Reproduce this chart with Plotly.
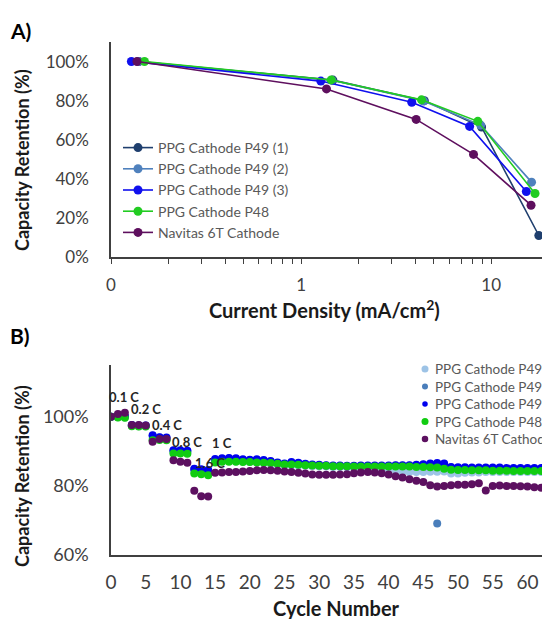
import math
import plotly.graph_objects as go

# ---------------- Panel A data ----------------
a_names = ["PPG Cathode P49 (1)", "PPG Cathode P49 (2)", "PPG Cathode P49 (3)",
           "PPG Cathode P48", "Navitas 6T Cathode"]
a_x_p49_1 = [0.14, 1.47, 4.45, 8.9, 17.8]
a_y_p49_1 = [100, 90.5, 80.0, 66.5, 11.0]
a_x_p49_2 = [0.14, 1.45, 4.4, 8.8, 16.3]
a_y_p49_2 = [100, 90.4, 79.8, 67.5, 38.3]
a_x_p49_3 = [0.128, 1.27, 3.82, 7.7, 15.3]
a_y_p49_3 = [100, 90.0, 79.2, 66.8, 33.5]
a_x_p48 = [0.15, 1.44, 4.3, 8.5, 17.0]
a_y_p48 = [100, 90.6, 80.4, 69.4, 32.5]
a_x_nav = [0.137, 1.36, 4.03, 8.07, 16.2]
a_y_nav = [100, 86.0, 70.4, 52.5, 26.5]
a_colors = ["#1F3F6E", "#4F81BD", "#1010EE", "#22CC22", "#5E0F5E"]

a_tickvals = [0.1, 0.2, 0.3, 0.4, 0.5, 0.6, 0.7, 0.8, 0.9, 1, 2, 3, 4, 5, 6, 7, 8, 9, 10]
a_ticktext = ["0", "", "", "", "", "", "", "", "", "1", "", "", "", "", "", "", "", "", "10"]
a_yticks = [0, 20, 40, 60, 80, 100]
a_yticktext = ["0%", "20%", "40%", "60%", "80%", "100%"]

# ---------------- Panel B data ----------------
b_names = ["PPG Cathode P49 (1)", "PPG Cathode P49 (2)", "PPG Cathode P49 (3)",
           "PPG Cathode P48", "Navitas 6T Cathode"]
b_cycles = list(range(63))
b_p49_1 = [100.0, 99.9, 99.8, 97.4, 97.3, 97.3, 93.6, 93.5, 93.4, 89.8, 89.7, 89.6, 84.2, 84.0, 83.8,
           86.9, 87.1, 87.2, 87.1, 87.0, 86.9, 86.8, 86.6, 86.4, 86.2, 86.0, 86.0, 85.9, 85.8, 85.7,
           85.6, 85.6, 85.5, 85.5, 85.4, 85.4, 85.4, 85.4, 85.3, 85.2, 85.0, 84.6, 84.2, 84.0, 84.0,
           84.0, 84.1, 84.1, 84.2, 83.6, 83.6, 83.8, 83.9, 83.9, 84.0, 84.0, 84.0, 84.0, 84.0, 84.0,
           84.0, 84.0, 84.0]
b_p49_2 = [100.0, 100.0, 100.1, 97.5, 97.4, 97.4, 94.5, 94.0, 93.9, 90.2, 90.1, 90.1, 84.8, 84.6, 84.4,
           87.6, 87.8, 87.9, 87.8, 87.5, 87.4, 87.5, 87.3, 87.0, 86.6, 86.3, 86.6, 86.5, 86.2, 86.0,
           85.9, 85.8, 85.7, 85.7, 85.6, 85.6, 85.7, 85.7, 85.7, 85.7, 85.7, 85.8, 85.8, 85.8, 85.9,
           86.1, 86.3, 69.1, 86.3, 85.3, 85.2, 85.2, 85.1, 85.1, 85.1, 85.1, 85.1, 85.0, 85.0, 85.0,
           85.0, 85.0, 85.0]
b_p49_3 = [100.0, 100.1, 100.2, 97.6, 97.5, 97.5, 94.7, 94.1, 94.0, 90.3, 90.3, 90.2, 85.0, 84.8, 84.6,
           87.8, 88.0, 88.1, 88.0, 87.7, 87.6, 87.7, 87.5, 87.2, 86.8, 86.5, 86.9, 86.7, 86.4, 86.2,
           86.1, 86.0, 85.9, 85.9, 85.8, 85.8, 85.9, 85.9, 85.9, 85.9, 85.9, 86.0, 86.0, 86.0, 86.1,
           86.3, 86.5, 86.6, 86.5, 85.5, 85.4, 85.4, 85.3, 85.3, 85.3, 85.3, 85.3, 85.2, 85.2, 85.2,
           85.2, 85.2, 85.2]
b_p48 = [100.0, 99.8, 99.7, 97.3, 97.2, 97.2, 93.2, 93.3, 93.2, 89.4, 89.4, 89.3, 83.6, 83.4, 83.1,
         86.8, 87.0, 87.0, 87.0, 86.9, 86.9, 86.8, 86.7, 86.6, 86.4, 86.2, 86.2, 86.1, 86.0, 85.9,
         85.8, 85.8, 85.7, 85.7, 85.7, 85.6, 85.6, 85.6, 85.6, 85.6, 85.6, 85.6, 85.6, 85.6, 85.5,
         85.5, 85.4, 85.3, 85.0, 84.7, 84.6, 84.6, 84.5, 84.5, 84.5, 84.4, 84.4, 84.4, 84.3, 84.3,
         84.3, 84.3, 84.3]
b_nav = [100.0, 100.8, 101.2, 97.6, 97.6, 97.5, 92.8, 93.6, 93.6, 87.4, 87.0, 86.7, 78.6, 77.0, 76.9,
         83.8, 83.9, 84.0, 84.0, 84.2, 84.3, 84.5, 84.6, 84.5, 84.4, 84.2, 84.0, 83.8, 83.6, 83.3,
         83.2, 83.2, 83.2, 83.3, 83.4, 83.7, 83.9, 84.0, 83.9, 83.7, 83.3, 82.8, 82.4, 81.9, 81.5,
         81.1, 80.2, 79.8, 80.0, 80.2, 80.3, 80.3, 80.5, 80.8, 78.7, 80.0, 80.1, 80.0, 80.0, 79.9,
         79.8, 79.6, 79.5]
b_colors = ["#9DC3E6", "#4A7EBB", "#0000EE", "#11CC11", "#5C1060"]

b_xticks = list(range(0, 61, 5))
b_yticks = [60, 80, 100]
b_yticktext = ["60%", "80%", "100%"]

rate_labels = ["0.1 C", "0.2 C", "0.4 C", "0.8 C", "1 C", "1.6 C"]
rate_x = [-0.55, 2.6, 5.6, 8.5, 14.3, 11.8]
rate_y = [105.7, 102.4, 97.6, 92.7, 92.4, 86.6]

# ---------------- Figure ----------------
W, H = 542, 619
L = 111
PW = W - L
B_XMAX = 62.1
B_PX_PER_CYCLE = PW / B_XMAX


def px_x(px):
    return (px - L) / PW


def px_y(py):
    return (H - py) / H


FONT = "Lato, 'Open Sans', sans-serif"
TICKC = "#404040"
AXC = "#404040"
LEGC = "#595959"

fig = go.Figure()

a_xs = [a_x_p49_1, a_x_p49_2, a_x_p49_3, a_x_p48, a_x_nav]
a_ys = [a_y_p49_1, a_y_p49_2, a_y_p49_3, a_y_p48, a_y_nav]
for name, xs, ys, col in zip(a_names, a_xs, a_ys, a_colors):
    fig.add_trace(go.Scatter(x=xs, y=ys, mode="lines+markers", name=name,
                             line=dict(color=col, width=1.6),
                             marker=dict(color=col, size=9),
                             xaxis="x", yaxis="y", legend="legend"))

b_ys = [b_p49_1, b_p49_2, b_p49_3, b_p48, b_nav]
for name, ys, col in zip(b_names, b_ys, b_colors):
    fig.add_trace(go.Scatter(x=b_cycles, y=ys, mode="markers", name=name,
                             marker=dict(color=col, size=8),
                             xaxis="x2", yaxis="y2", showlegend=False))

annotations = []
for lab, xx, yy in zip(rate_labels, rate_x, rate_y):
    xin = max(xx, 0.0)
    annotations.append(dict(x=xin, y=yy, xref="x2", yref="y2", text="<b>%s</b>" % lab,
                            xshift=(xx - xin) * B_PX_PER_CYCLE,
                            showarrow=False, xanchor="left", yanchor="middle",
                            font=dict(family=FONT, size=13, color="#262626")))

annotations += [
    dict(x=px_x(8), y=px_y(30), xref="paper", yref="paper", text="<b>A)</b>",
         showarrow=False, xanchor="left", yanchor="middle",
         font=dict(family=FONT, size=21, color="#000000")),
    dict(x=px_x(8), y=px_y(335), xref="paper", yref="paper", text="<b>B)</b>",
         showarrow=False, xanchor="left", yanchor="middle",
         font=dict(family=FONT, size=21, color="#000000")),
    dict(x=px_x(22), y=px_y(160), xref="paper", yref="paper",
         text="<b>Capacity Retention (%)</b>", textangle=-90,
         showarrow=False, xanchor="center", yanchor="middle",
         font=dict(family=FONT, size=18, color="#1a1a1a")),
    dict(x=px_x(324), y=px_y(309), xref="paper", yref="paper",
         text="<b>Current Density (mA/cm<sup>2</sup>)</b>",
         showarrow=False, xanchor="center", yanchor="middle",
         font=dict(family=FONT, size=20, color="#1a1a1a")),
    dict(x=px_x(22), y=px_y(476), xref="paper", yref="paper",
         text="<b>Capacity Retention (%)</b>", textangle=-90,
         showarrow=False, xanchor="center", yanchor="middle",
         font=dict(family=FONT, size=18, color="#1a1a1a")),
    dict(x=px_x(336), y=px_y(608), xref="paper", yref="paper",
         text="<b>Cycle Number</b>",
         showarrow=False, xanchor="center", yanchor="middle",
         font=dict(family=FONT, size=20, color="#1a1a1a")),
]

# Manual legend for panel B (text runs past the right edge, as in the reference)
shapes = []
leg_b_rows = [369, 386.5, 404, 421.5, 439]
leg_b_sizes = [7, 6, 5.5, 7, 6.5]
for name, col, ry, sz in zip(b_names, b_colors, leg_b_rows, leg_b_sizes):
    cx = 425
    shapes.append(dict(type="circle", xref="paper", yref="paper",
                       x0=px_x(cx - sz / 2), x1=px_x(cx + sz / 2),
                       y0=px_y(ry + sz / 2), y1=px_y(ry - sz / 2),
                       fillcolor=col, line=dict(width=0)))
    annotations.append(dict(x=px_x(433), y=px_y(ry), xref="paper", yref="paper",
                            text=name, showarrow=False, xanchor="left", yanchor="middle",
                            font=dict(family=FONT, size=13.5, color=LEGC)))

axis_common = dict(showgrid=False, zeroline=False, showline=True,
                   linecolor=AXC, linewidth=1.5)

fig.update_layout(
    width=W, height=H,
    margin=dict(l=L, r=0, t=0, b=0, autoexpand=False),
    paper_bgcolor="white", plot_bgcolor="white",
    font=dict(family=FONT),
    xaxis=dict(type="log", range=[-1, math.log10(18.5)], domain=[0, 1], anchor="y",
               tickmode="array", tickvals=a_tickvals, ticktext=a_ticktext,
               ticks="outside", ticklen=5, tickwidth=1.2, tickcolor=AXC,
               ticklabelstandoff=7, tickfont=dict(family=FONT, size=17, color=TICKC),
               **axis_common),
    yaxis=dict(range=[0, 110], domain=[px_y(257), px_y(42)], anchor="x",
               tickmode="array", tickvals=a_yticks, ticktext=a_yticktext,
               ticks="", ticklabelstandoff=17, tickfont=dict(family=FONT, size=17, color=TICKC),
               **axis_common),
    xaxis2=dict(range=[0, B_XMAX], domain=[0, 1], anchor="y2",
                tickmode="array", tickvals=b_xticks,
                ticks="", ticklabelstandoff=9, tickfont=dict(family=FONT, size=19, color=TICKC),
                **axis_common),
    yaxis2=dict(range=[60, 115], domain=[px_y(555), px_y(365)], anchor="x2",
                tickmode="array", tickvals=b_yticks, ticktext=b_yticktext,
                ticks="", ticklabelstandoff=17, tickfont=dict(family=FONT, size=18, color=TICKC),
                **axis_common),
    legend=dict(x=px_x(118), y=px_y(132), xanchor="left", yanchor="top",
                bgcolor="rgba(0,0,0,0)", itemwidth=30, tracegroupgap=0,
                font=dict(family=FONT, size=14, color=LEGC)),
    annotations=annotations,
    shapes=shapes,
    showlegend=True,
)

fig.write_html("out.html")
